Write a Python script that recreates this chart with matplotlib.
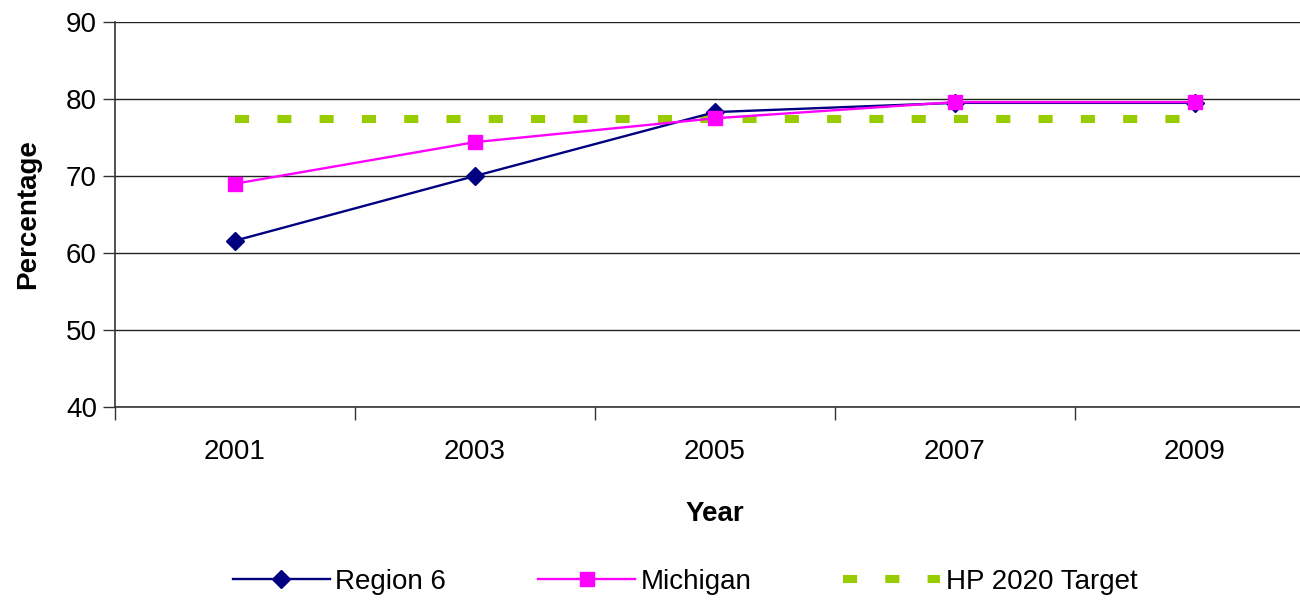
import matplotlib
matplotlib.use("Agg")
import matplotlib.pyplot as plt

# --- data ---
years = ["2001", "2003", "2005", "2007", "2009"]
region6 = [61.6, 70.0, 78.3, 79.5, 79.5]
michigan = [69.0, 74.4, 77.5, 79.6, 79.6]
target = [77.4, 77.4, 77.4, 77.4, 77.4]

plt.rcParams['font.family'] = ['Liberation Sans', 'DejaVu Sans']
FS = 20

fig = plt.figure(figsize=(13, 6), dpi=100)
# plot area runs a little past the right edge of the picture, as in the reference
ax = fig.add_axes([0.0885, 0.3217, 0.923, 0.6416])

x = range(len(years))
ax.plot(x, target, color='#99CC00', linewidth=5.8, dashes=(1.75, 3.5),
        dash_capstyle='butt', label='HP 2020 Target', zorder=2)
ax.plot(x, region6, color='#000080', linewidth=1.7, marker='D', markersize=9.5,
        label='Region 6', zorder=3)
ax.plot(x, michigan, color='#FF00FF', linewidth=1.7, marker='s', markersize=10,
        label='Michigan', zorder=4)

ax.set_ylim(40, 90)
ax.set_yticks(range(40, 91, 10))
ax.set_xlim(-0.5, 4.5)
ax.set_xticks(list(x))
ax.set_xticklabels(years)
ax.set_xticks([i - 0.5 for i in range(6)], minor=True)
ax.tick_params(axis='x', which='major', length=0, pad=23, labelsize=FS)
ax.tick_params(axis='x', which='minor', length=9, width=1, color='#333333')
ax.tick_params(axis='y', length=9, width=1, color='#333333', labelsize=FS, pad=4)

ax.yaxis.grid(True, color='#222222', linewidth=1)
ax.set_axisbelow(True)
for s in ['top', 'right']:
    ax.spines[s].set_visible(False)
ax.spines['left'].set_color('#333333')
ax.spines['bottom'].set_color('#333333')
ax.spines['left'].set_linewidth(1.2)
ax.spines['bottom'].set_linewidth(1.2)

ax.set_xlabel('Year', fontsize=FS, fontweight='bold', labelpad=26)
ax.set_ylabel('Percentage', fontsize=FS, fontweight='bold', labelpad=18)

h, l = ax.get_legend_handles_labels()
order = [1, 2, 0]
fig.legend([h[i] for i in order], [l[i] for i in order], loc='lower center',
           bbox_to_anchor=(0.527, -0.033), ncol=3, frameon=False, fontsize=FS,
           handlelength=3.5, columnspacing=3.3, handletextpad=0.2)

fig.savefig('out.png', dpi=100)
